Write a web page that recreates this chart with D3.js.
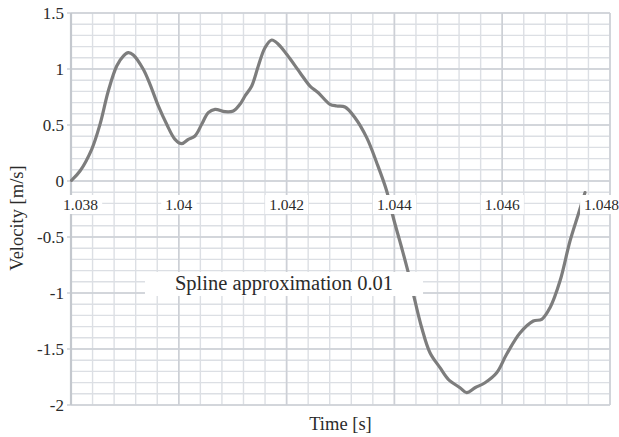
<!DOCTYPE html>
<html>
<head>
<meta charset="utf-8">
<script src="https://cdn.jsdelivr.net/npm/d3@7/dist/d3.min.js"></script>
<style>
  html, body { margin: 0; padding: 0; background: #fff; }
  svg { display: block; }
  text { font-family: "Liberation Serif", "DejaVu Serif", serif; fill: #2b2b2b; }
</style>
</head>
<body>
<svg id="chart" width="619" height="437"></svg>
<script>
// ---- data ----
const time = [1.03801, 1.038167, 1.038384, 1.038538, 1.038692, 1.038848, 1.03897, 1.039063, 1.039156,
  1.039341, 1.039466, 1.03962, 1.039776, 1.03993, 1.040054, 1.040176, 1.0403, 1.040425, 1.040547,
  1.040672, 1.040857, 1.041011, 1.041135, 1.041228, 1.041353, 1.041475, 1.041599, 1.041724, 1.041846,
  1.042002, 1.042249, 1.042434, 1.042588, 1.042805, 1.04293, 1.043084, 1.043269, 1.043486, 1.043672,
  1.043857, 1.04398, 1.044135, 1.044258, 1.044382, 1.044507, 1.04466, 1.044846, 1.045, 1.045217,
  1.045341, 1.045495, 1.045681, 1.045898, 1.046084, 1.04633, 1.046577, 1.046733, 1.046887, 1.047072,
  1.047258, 1.047412, 1.047536];
const velocity = [0.006, 0.089, 0.283, 0.506, 0.804, 1.027, 1.116, 1.146, 1.125,
  0.997, 0.863, 0.670, 0.506, 0.372, 0.333, 0.372, 0.402, 0.506, 0.610,
  0.640, 0.619, 0.625, 0.685, 0.759, 0.848, 1.027, 1.190, 1.259, 1.221,
  1.131, 0.967, 0.848, 0.788, 0.685, 0.670, 0.661, 0.565, 0.387, 0.163,
  -0.089, -0.328, -0.596, -0.819, -1.071, -1.310, -1.533, -1.667, -1.771, -1.846,
  -1.890, -1.846, -1.801, -1.712, -1.545, -1.357, -1.250, -1.235, -1.131, -0.893,
  -0.536, -0.297, -0.104];
const xTicks = [1.038, 1.040, 1.042, 1.044, 1.046, 1.048];
const xTickLabels = ["1.038", "1.04", "1.042", "1.044", "1.046", "1.048"];
const yTicks = [1.5, 1, 0.5, 0, -0.5, -1, -1.5, -2];
const yTickLabels = ["1.5", "1", "0.5", "0", "-0.5", "-1", "-1.5", "-2"];
const xMinorStep = 0.0004;
const yMinorStep = 0.1;
const annotationText = "Spline approximation 0.01";
const annotationAt = [1.041952, -0.973];
const xTitle = "Time [s]";
const yTitle = "Velocity [m/s]";

// ---- layout ----
const svg = d3.select("#chart");
const pLeft = 71, pRight = 610, pTop = 13, pBottom = 405;
const x = d3.scaleLinear().domain([1.038, 1.048]).range([pLeft, pRight]);
const y = d3.scaleLinear().domain([-2, 1.5]).range([pBottom, pTop]);

// minor grid
const xMinor = d3.range(0, 26).map(i => 1.038 + i * xMinorStep);
const yMinor = d3.range(0, 36).map(i => -2 + i * yMinorStep);
const grid = svg.append("g");
grid.selectAll(".vx").data(xMinor).join("line")
  .attr("x1", d => x(d)).attr("x2", d => x(d))
  .attr("y1", pTop).attr("y2", pBottom)
  .attr("stroke", "#dcdfe4").attr("stroke-width", 1.4);
grid.selectAll(".hy").data(yMinor).join("line")
  .attr("x1", pLeft).attr("x2", pRight)
  .attr("y1", d => y(d)).attr("y2", d => y(d))
  .attr("stroke", "#dcdfe4").attr("stroke-width", 1.4);
// major grid
grid.selectAll(".vX").data(xTicks).join("line")
  .attr("x1", d => x(d)).attr("x2", d => x(d))
  .attr("y1", pTop).attr("y2", pBottom)
  .attr("stroke", "#cdd0d6").attr("stroke-width", 1.6);
grid.selectAll(".hY").data(yTicks).join("line")
  .attr("x1", pLeft - 4).attr("x2", pRight)
  .attr("y1", d => y(d)).attr("y2", d => y(d))
  .attr("stroke", "#cdd0d6").attr("stroke-width", 1.6);
// left axis line
svg.append("line").attr("x1", pLeft).attr("x2", pLeft).attr("y1", pTop).attr("y2", pBottom)
  .attr("stroke", "#c4c8ce").attr("stroke-width", 2.2);

// curve
const pts = time.map((t, i) => [t, velocity[i]]);
svg.append("path")
  .datum(pts)
  .attr("fill", "none")
  .attr("stroke", "#7d7d7d")
  .attr("stroke-width", 3.2)
  .attr("stroke-linejoin", "round")
  .attr("stroke-linecap", "round")
  .attr("d", d3.line().x(d => x(d[0])).y(d => y(d[1])).curve(d3.curveCatmullRom.alpha(0.5)));

// y tick labels
svg.append("g").selectAll("text").data(yTicks).join("text")
  .attr("x", pLeft - 7).attr("y", d => y(d)).attr("dy", "0.36em")
  .attr("text-anchor", "end").attr("font-size", 17)
  .text((d, i) => yTickLabels[i]);

// x tick labels with white boxes
const xl = svg.append("g");
xTicks.forEach((d, i) => {
  const shift = i === 0 ? 9.5 : (i === xTicks.length - 1 ? -8.5 : 0);
  const g = xl.append("g");
  const t = g.append("text")
    .attr("x", x(d) + shift).attr("y", y(0) + 29)
    .attr("text-anchor", "middle").attr("font-size", 15.5)
    .text(xTickLabels[i]);
  const b = t.node().getBBox();
  g.insert("rect", "text")
    .attr("x", b.x - 4).attr("y", b.y - 1).attr("width", b.width + 8).attr("height", b.height + 2)
    .attr("fill", "#fff");
});

// annotation
const ag = svg.append("g");
const at = ag.append("text")
  .attr("x", x(annotationAt[0])).attr("y", y(annotationAt[1]))
  .attr("text-anchor", "middle").attr("font-size", 20.5)
  .text(annotationText);
const ab = at.node().getBBox();
ag.insert("rect", "text")
  .attr("x", ab.x - 30).attr("y", ab.y).attr("width", ab.width + 60).attr("height", ab.height + 1)
  .attr("fill", "#fff");

// axis titles
svg.append("text").attr("x", (pLeft + pRight) / 2).attr("y", 430)
  .attr("text-anchor", "middle").attr("font-size", 18.5).text(xTitle);
svg.append("text").attr("transform", `translate(23, ${(pTop + pBottom) / 2 + 9}) rotate(-90)`)
  .attr("text-anchor", "middle").attr("font-size", 18.5).text(yTitle);
</script>
</body>
</html>
